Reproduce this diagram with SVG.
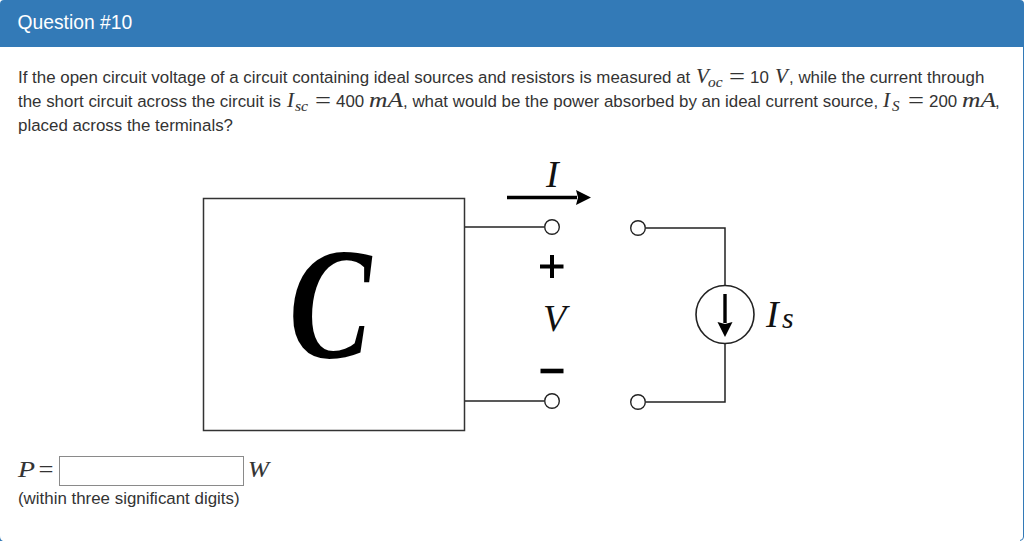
<svg xmlns="http://www.w3.org/2000/svg" width="1024" height="541" viewBox="0 0 1024 541">
<style>
.t{font-family:"Liberation Sans",Arial,sans-serif;font-size:16.900px;fill:#333}
.m{font-family:"Liberation Serif","Times New Roman",serif;fill:#333}
.i{font-style:italic;stroke:#333;stroke-width:.1}
.f{font-family:"Liberation Serif","Times New Roman",serif;font-style:italic;fill:#111}
.w{fill:none;stroke:#222;stroke-width:1.500}
.k{fill:#fff;stroke:#222;stroke-width:1.400}
.a{fill:none;stroke:#000;stroke-width:3.400}
</style>
<defs>
<marker id="ah" markerUnits="userSpaceOnUse" markerWidth="16" markerHeight="16" refX="1" refY="7.500" orient="auto"><path d="M0 0L15 7.500L0 15L2 7.500Z" fill="#000"/></marker>
</defs>
<rect width="1024" height="541" fill="#fff"/>
<g id="panel">
<path d="M1023.500 47V537Q1023.500 540 1020 540.500" fill="none" stroke="#337ab7"/>
<path d="M0 536Q0 540 3 541H0Z" fill="#337ab7"/>
<path d="M0 47V4Q0 0 4 0H1020Q1024 0 1024 4V47Z" fill="#337ab7"/>
<text x="17.500" y="29" style="font-family:'Liberation Sans',Arial,sans-serif;font-size:19.300px;fill:#fff">Question #10</text>
</g>
<g id="question">
<text class="t" x="18" y="83">If the open circuit voltage of a circuit containing ideal sources and resistors is measured at</text>
<text class="m i" x="696" y="83" font-size="21">V</text><text class="m i" x="708" y="86.500" font-size="15" textLength="14.500" lengthAdjust="spacingAndGlyphs">oc</text>
<text class="m" x="729" y="84" font-size="24" textLength="16" lengthAdjust="spacingAndGlyphs">=</text>
<text class="t" x="750" y="83">10</text>
<text class="m i" x="775" y="83" font-size="21">V</text>
<text class="t" x="789" y="83">, while the current through</text>
<text class="t" x="18" y="107">the short circuit across the circuit is</text>
<text class="m i" x="287" y="107" font-size="21">I</text><text class="m i" x="295" y="110.500" font-size="15" textLength="13" lengthAdjust="spacingAndGlyphs">sc</text>
<text class="m" x="315" y="108" font-size="24" textLength="16" lengthAdjust="spacingAndGlyphs">=</text>
<text class="t" x="336" y="107">400</text>
<text class="m i" x="369" y="107" font-size="21" textLength="34" lengthAdjust="spacingAndGlyphs">mA</text>
<text class="t" x="403" y="107">, what would be the power absorbed by an ideal current source,</text>
<text class="m i" x="883" y="107" font-size="21">I</text><text class="m i" x="892" y="110.500" font-size="15">S</text>
<text class="m" x="908" y="108" font-size="24" textLength="16" lengthAdjust="spacingAndGlyphs">=</text>
<text class="t" x="929" y="107">200</text>
<text class="m i" x="962" y="107" font-size="21" textLength="34" lengthAdjust="spacingAndGlyphs">mA</text>
<text class="t" x="995" y="107">,</text>
<text class="t" x="18" y="131">placed across the terminals?</text>
</g>
<g id="connectors">
<path class="w" d="M465 227H544"/>
<path class="w" d="M465 401H544"/>
<path class="w" d="M646 228H725V285"/>
<path class="w" d="M646 402H725V344"/>
<path class="a" d="M507 197.500H577" marker-end="url(#ah)"/>
<path class="a" d="M725 294V323" marker-end="url(#ah)"/>
</g>
<g id="circuit-box">
<rect x="203.500" y="198.500" width="261" height="232" fill="#fff" stroke="#333" stroke-width="1.500"/>
<text transform="translate(289 357) scale(.77 1)" style="font-family:'Liberation Serif',serif;font-style:italic;font-weight:bold;font-size:160px;fill:#000">C</text>
</g>
<g id="terminals">
<circle class="k" cx="552" cy="227" r="7.300"/>
<circle class="k" cx="552" cy="401" r="7.300"/>
<circle class="k" cx="638" cy="228" r="7.300"/>
<circle class="k" cx="638" cy="402" r="7.300"/>
</g>
<g id="source">
<circle cx="725" cy="314.500" r="29" fill="none" stroke="#222" stroke-width="1.600"/>
<text class="f" x="766" y="327" font-size="38">I</text>
<text class="f" x="782" y="328" font-size="30">s</text>
</g>
<g id="labels">
<text class="f" x="546" y="187" font-size="38">I</text>
<text class="f" x="543" y="331" font-size="38">V</text>
<path d="M540 266.500H563.500M552 255V278" fill="none" stroke="#000" stroke-width="4"/>
<path d="M540.500 371H563.500" fill="none" stroke="#000" stroke-width="4.600"/>
</g>
<g id="answer">
<text class="m i" x="18" y="477" font-size="23" textLength="17" lengthAdjust="spacingAndGlyphs">P</text>
<text class="m" x="38.500" y="478" font-size="25" textLength="15" lengthAdjust="spacingAndGlyphs">=</text>
<rect x="59.500" y="456.500" width="184" height="29" fill="#fff" stroke="#8a8a8a"/>
<text class="m i" x="248" y="477" font-size="23" textLength="21" lengthAdjust="spacingAndGlyphs">W</text>
<text class="t" x="18" y="504">(within three significant digits)</text>
</g>
</svg>
